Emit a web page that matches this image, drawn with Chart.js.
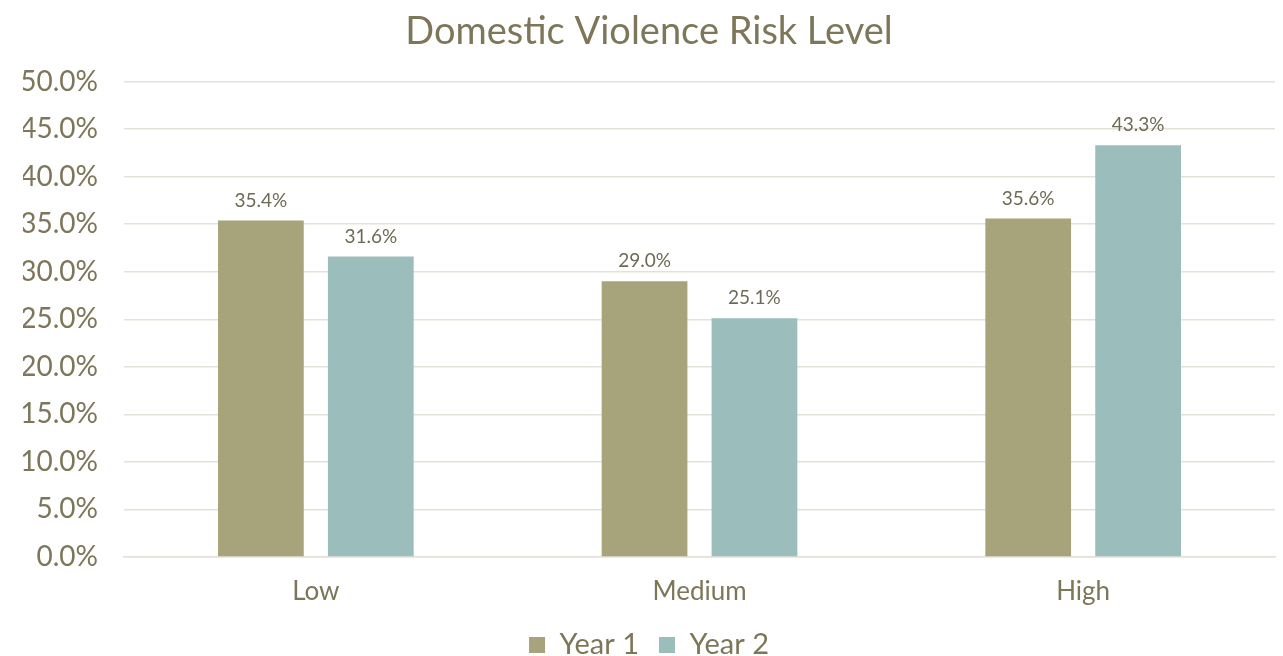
<!DOCTYPE html>
<html>
<head>
<meta charset="utf-8">
<script src="https://cdn.jsdelivr.net/npm/chart.js@4"></script>
<style>
html,body{margin:0;padding:0;background:#fff;}
#wrap{width:1283px;height:656px;position:relative;}
</style>
</head>
<body>
<div id="wrap"><canvas id="c" width="1283" height="656"></canvas></div>
<script>
const categories = ["Low", "Medium", "High"];
const year1 = [35.4, 29.0, 35.6];
const year2 = [31.6, 25.1, 43.3];
const seriesNames = ["Year 1", "Year 2"];
const titleText = "Domestic Violence Risk Level";

const textColor = "#7D7659";
const fontFam = "Lato, 'DejaVu Sans', sans-serif";

const valueLabels = {
  id: "valueLabels",
  afterDatasetsDraw(chart) {
    const ctx = chart.ctx;
    ctx.save();
    ctx.font = "19px " + fontFam;
    ctx.fillStyle = "#6E6A55";
    ctx.textAlign = "center";
    ctx.textBaseline = "middle";
    chart.data.datasets.forEach((ds, i) => {
      chart.getDatasetMeta(i).data.forEach((bar, j) => {
        ctx.fillText(ds.data[j].toFixed(1) + "%", bar.x, bar.y - 20);
      });
    });
    ctx.restore();
  }
};

new Chart(document.getElementById("c"), {
  type: "bar",
  data: {
    labels: categories,
    datasets: [
      { label: seriesNames[0], data: year1, backgroundColor: "#A7A37A", categoryPercentage: 0.573, barPercentage: 0.78 },
      { label: seriesNames[1], data: year2, backgroundColor: "#9BBDBC", categoryPercentage: 0.573, barPercentage: 0.78 }
    ]
  },
  plugins: [valueLabels],
  options: {
    responsive: false,
    animation: false,
    layout: { padding: { left: 23, right: 8, top: 4, bottom: -13.5 } },
    plugins: {
      title: {
        display: true, text: titleText, color: textColor,
        font: { family: fontFam, size: 38, weight: "normal" },
        padding: { top: 5, bottom: 27 }
      },
      legend: {
        position: "bottom",
        labels: {
          color: textColor,
          font: { family: fontFam, size: 29 },
          boxWidth: 16, boxHeight: 16, padding: 20
        }
      },
      tooltip: { enabled: false }
    },
    scales: {
      y: {
        min: 0, max: 50,
        ticks: { stepSize: 5, color: textColor, font: { family: fontFam, size: 28 }, padding: 26,
          callback: v => v.toFixed(1) + "%" },
        grid: { color: "#E3E1D8", lineWidth: 1.5, drawTicks: false },
        border: { display: false },
        afterFit(axis) { axis.width = 101; }
      },
      x: {
        ticks: { color: textColor, font: { family: fontFam, size: 26 }, padding: 19 },
        grid: { display: false, drawTicks: false },
        border: { color: "#E3E1D8", width: 1.5 },
        afterFit(axis) { axis.height = 53.5; }
      }
    }
  }
});
</script>
</body>
</html>
